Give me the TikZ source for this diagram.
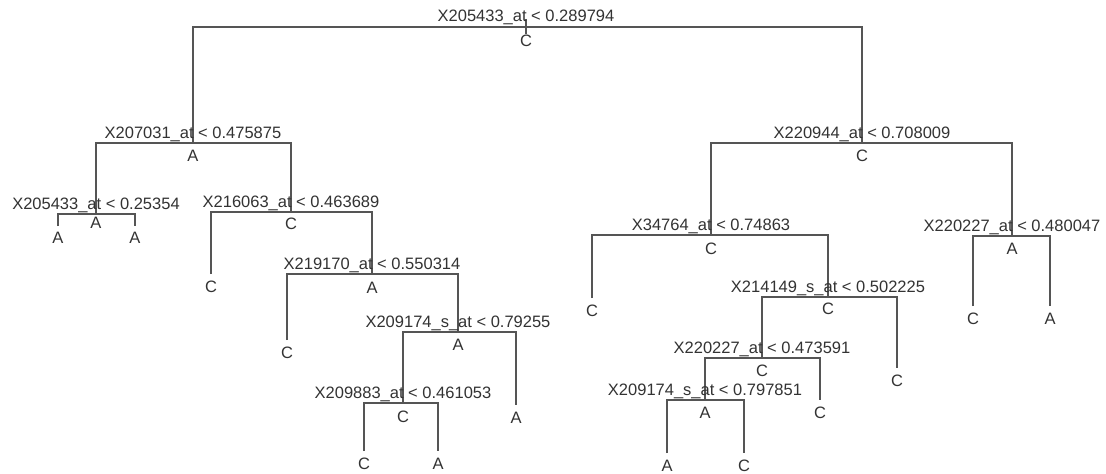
\documentclass[tikz,border=0pt]{standalone}
\usepackage{fontspec}
\setmainfont{Liberation Sans}
\definecolor{linegray}{HTML}{555555}
\definecolor{textgray}{HTML}{333333}
\begin{document}
\begin{tikzpicture}[x=1pt,y=-1pt,
  edge/.style={draw=linegray, line width=1.6pt},
  lbl/.style={anchor=base, inner sep=0pt, text=textgray, font=\fontsize{16.5}{19}\selectfont},
]
\useasboundingbox[fill=white] (0,0) rectangle (1106,474);
% ---- split points (bar centres) ----
\coordinate (p1) at (526,27);
\coordinate (p2) at (193,143);
\coordinate (p3) at (862,143);
\coordinate (p4) at (96,214);
\coordinate (p5) at (291,212);
\coordinate (p11) at (372,274);
\coordinate (p23) at (458,332);
\coordinate (p46) at (403,403);
\coordinate (p6) at (711,235);
\coordinate (p7) at (1012,236);
\coordinate (p13) at (828,297);
\coordinate (p26) at (762,358);
\coordinate (p52) at (705,400);
% ---- leaf ends ----
\coordinate (p8) at (58,226);
\coordinate (p9) at (135,226);
\coordinate (p10) at (211,274);
\coordinate (p22) at (287,340);
\coordinate (p47) at (516,405);
\coordinate (p92) at (364,451);
\coordinate (p93) at (438,451);
\coordinate (p12) at (592,298);
\coordinate (p27) at (897,368);
\coordinate (p53) at (820,400);
\coordinate (p104) at (667,453);
\coordinate (p105) at (744,453);
\coordinate (p14) at (973,306);
\coordinate (p15) at (1050,306);
\coordinate (r0) at (526,19);
\coordinate (r1) at (526,34);
% ---- connectors ----
\draw[edge] (r0) -- (r1);
\draw[edge] (p2) |- (p1) -| (p3);
\draw[edge] (p4) |- (p2) -| (p5);
\draw[edge] (p8) |- (p4) -| (p9);
\draw[edge] (p10) |- (p5) -| (p11);
\draw[edge] (p22) |- (p11) -| (p23);
\draw[edge] (p46) |- (p23) -| (p47);
\draw[edge] (p92) |- (p46) -| (p93);
\draw[edge] (p6) |- (p3) -| (p7);
\draw[edge] (p12) |- (p6) -| (p13);
\draw[edge] (p26) |- (p13) -| (p27);
\draw[edge] (p52) |- (p26) -| (p53);
\draw[edge] (p104) |- (p52) -| (p105);
\draw[edge] (p14) |- (p7) -| (p15);
% ---- split labels ----
\node[lbl] (l1) at ([yshift=6pt]p1) {X205433\_at < 0.289794};
\node[lbl] (l2) at ([yshift=5pt]p2) {X207031\_at < 0.475875};
\node[lbl] (l3) at ([yshift=5pt]p3) {X220944\_at < 0.708009};
\node[lbl] (l4) at ([yshift=5pt]p4) {X205433\_at < 0.25354};
\node[lbl] (l5) at ([yshift=5pt]p5) {X216063\_at < 0.463689};
\node[lbl] (l11) at ([yshift=5pt]p11) {X219170\_at < 0.550314};
\node[lbl] (l23) at ([yshift=5pt]p23) {X209174\_s\_at < 0.79255};
\node[lbl] (l46) at ([yshift=5pt]p46) {X209883\_at < 0.461053};
\node[lbl] (l6) at ([yshift=5pt]p6) {X34764\_at < 0.74863};
\node[lbl] (l7) at ([yshift=5pt]p7) {X220227\_at < 0.480047};
\node[lbl] (l13) at ([yshift=5pt]p13) {X214149\_s\_at < 0.502225};
\node[lbl] (l26) at ([yshift=5pt]p26) {X220227\_at < 0.473591};
\node[lbl] (l52) at ([yshift=5pt]p52) {X209174\_s\_at < 0.797851};
% ---- class letters at splits ----
\node[lbl] (c1) at ([yshift=-19pt]p1) {C};
\node[lbl] (c2) at ([yshift=-18pt]p2) {A};
\node[lbl] (c3) at ([yshift=-18pt]p3) {C};
\node[lbl] (c4) at ([yshift=-14pt]p4) {A};
\node[lbl] (c5) at ([yshift=-17pt]p5) {C};
\node[lbl] (c11) at ([yshift=-19pt]p11) {A};
\node[lbl] (c23) at ([yshift=-18pt]p23) {A};
\node[lbl] (c46) at ([yshift=-19pt]p46) {C};
\node[lbl] (c6) at ([yshift=-19pt]p6) {C};
\node[lbl] (c7) at ([yshift=-18pt]p7) {A};
\node[lbl] (c13) at ([yshift=-17pt]p13) {C};
\node[lbl] (c26) at ([yshift=-18pt]p26) {C};
\node[lbl] (c52) at ([yshift=-18pt]p52) {A};
% ---- leaves ----
\node[lbl] (c8) at ([yshift=-17pt]p8) {A};
\node[lbl] (c9) at ([yshift=-17pt]p9) {A};
\node[lbl] (c10) at ([yshift=-18pt]p10) {C};
\node[lbl] (c22) at ([yshift=-18pt]p22) {C};
\node[lbl] (c47) at ([yshift=-18pt]p47) {A};
\node[lbl] (c92) at ([yshift=-18pt]p92) {C};
\node[lbl] (c93) at ([yshift=-18pt]p93) {A};
\node[lbl] (c12) at ([yshift=-18pt]p12) {C};
\node[lbl] (c27) at ([yshift=-18pt]p27) {C};
\node[lbl] (c53) at ([yshift=-18pt]p53) {C};
\node[lbl] (c104) at ([yshift=-18pt]p104) {A};
\node[lbl] (c105) at ([yshift=-18pt]p105) {C};
\node[lbl] (c14) at ([yshift=-18pt]p14) {C};
\node[lbl] (c15) at ([yshift=-18pt]p15) {A};
\end{tikzpicture}
\end{document}
